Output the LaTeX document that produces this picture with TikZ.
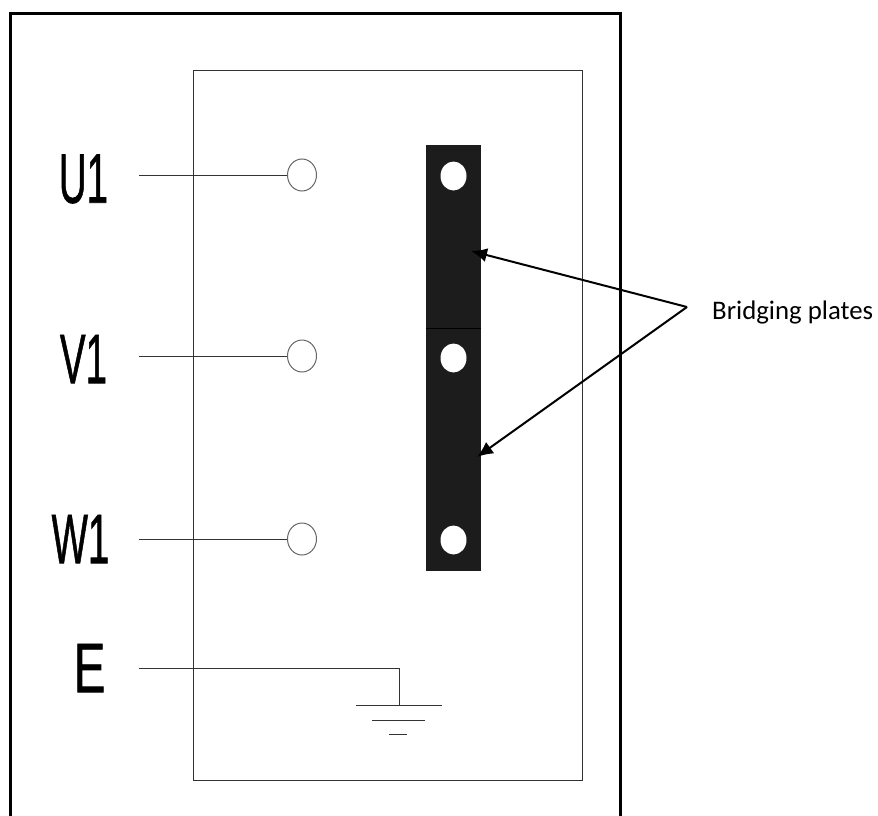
\documentclass[tikz,border=0pt]{standalone}
\usepackage{fontspec}
\setmainfont{Liberation Sans}
\newfontfamily\notefont{Carlito}
\newfontfamily\termfont[FakeBold=1.2]{Liberation Sans}
\usetikzlibrary{arrows.meta,shapes.geometric,scopes}
\definecolor{plategray}{HTML}{1C1C1C}
\definecolor{linegray}{HTML}{333333}
\tikzset{
  >={Latex[length=16pt,width=14pt]},
  lb/.style={font=\termfont\fontsize{70}{70}\selectfont, inner sep=0pt, xscale=#1, transform shape},
  lb/.default=0.55,
  wire/.style={draw=linegray, line width=1pt},
  tm/.style={ellipse, draw=gray!80!black, line width=1pt, fill=white, minimum width=29pt, minimum height=32pt, inner sep=0pt},
  pl/.style={rectangle, fill=plategray, minimum width=55pt, inner sep=0pt},
  ho/.style={ellipse, fill=white, minimum width=26pt, minimum height=29pt, inner sep=0pt}
}

\begin{document}
\begin{tikzpicture}[x=1pt, y=-1pt]
  \useasboundingbox (0,0) rectangle (878,816);
  % outer frame, cut off by the page
  \coordinate (fa) at (10.5,816);
  \coordinate (fb) at (10.5,14);
  \coordinate (fc) at (620.5,14);
  \coordinate (fd) at (620.5,816);
  \draw[line width=3pt] (fa) -- (fb) -- (fc) -- (fd);
  \node[wire, rectangle, minimum width=389pt, minimum height=709pt, inner sep=0pt] (pn) at (387.5,425.5) {};

  % labels
  \node[lb] (u1) at (83.5,179) {U1};
  \node[lb] (v1) at (83.5,359) {V1};
  \node[lb] (w1) at (80.5,539) {W1};
  \node[lb=0.68] (e1) at (89.5,668) {E};

  % terminals
  \node[tm] (tu) at (302,175) {};
  \node[tm] (tv) at (302,356) {};
  \node[tm] (tw) at (302,539) {};
  \coordinate (su) at (139,175);
  \coordinate (sv) at (139,356);
  \coordinate (sw) at (139,539);
  \coordinate (se) at (139,668);
  \draw[wire] (su) -- (tu);
  \draw[wire] (sv) -- (tv);
  \draw[wire] (sw) -- (tw);

  % earth
  \coordinate (ga) at (399,705);
  \coordinate (gb) at (356,705);
  \coordinate (gc) at (442,705);
  \coordinate (gd) at (372,720);
  \coordinate (ge) at (425,720);
  \coordinate (gf) at (389,734);
  \coordinate (gg) at (407,734);
  \draw[wire] (se) -| (ga);
  \draw[wire] (gb) -- (gc);
  \draw[wire] (gd) -- (ge);
  \draw[wire] (gf) -- (gg);

  % bridging plates
  \node[pl, minimum height=183pt] (pa) at (453.5,236.5) {};
  \node[pl, minimum height=243pt] (pb) at (453.5,449.5) {};
  \draw[black, line width=0.8pt] (pa.south west) -- (pa.south east);
  \node[ho] (ha) at (453.5,176) {};
  \node[ho] (hb) at (453.5,358) {};
  \node[ho] (hc) at (453.5,540) {};

  % pointers
  \node[font=\notefont\fontsize{26.8}{28}\selectfont, anchor=west, inner sep=0pt] (bp) at (712,312) {Bridging plates};
  \coordinate (ap) at (687,307);
  \coordinate (ta) at (471,251);
  \coordinate (tb) at (477,457);
  {[->, line width=2pt]
  \draw (ap) -- (ta);
  \draw (ap) -- (tb);
  }
\end{tikzpicture}
\end{document}
